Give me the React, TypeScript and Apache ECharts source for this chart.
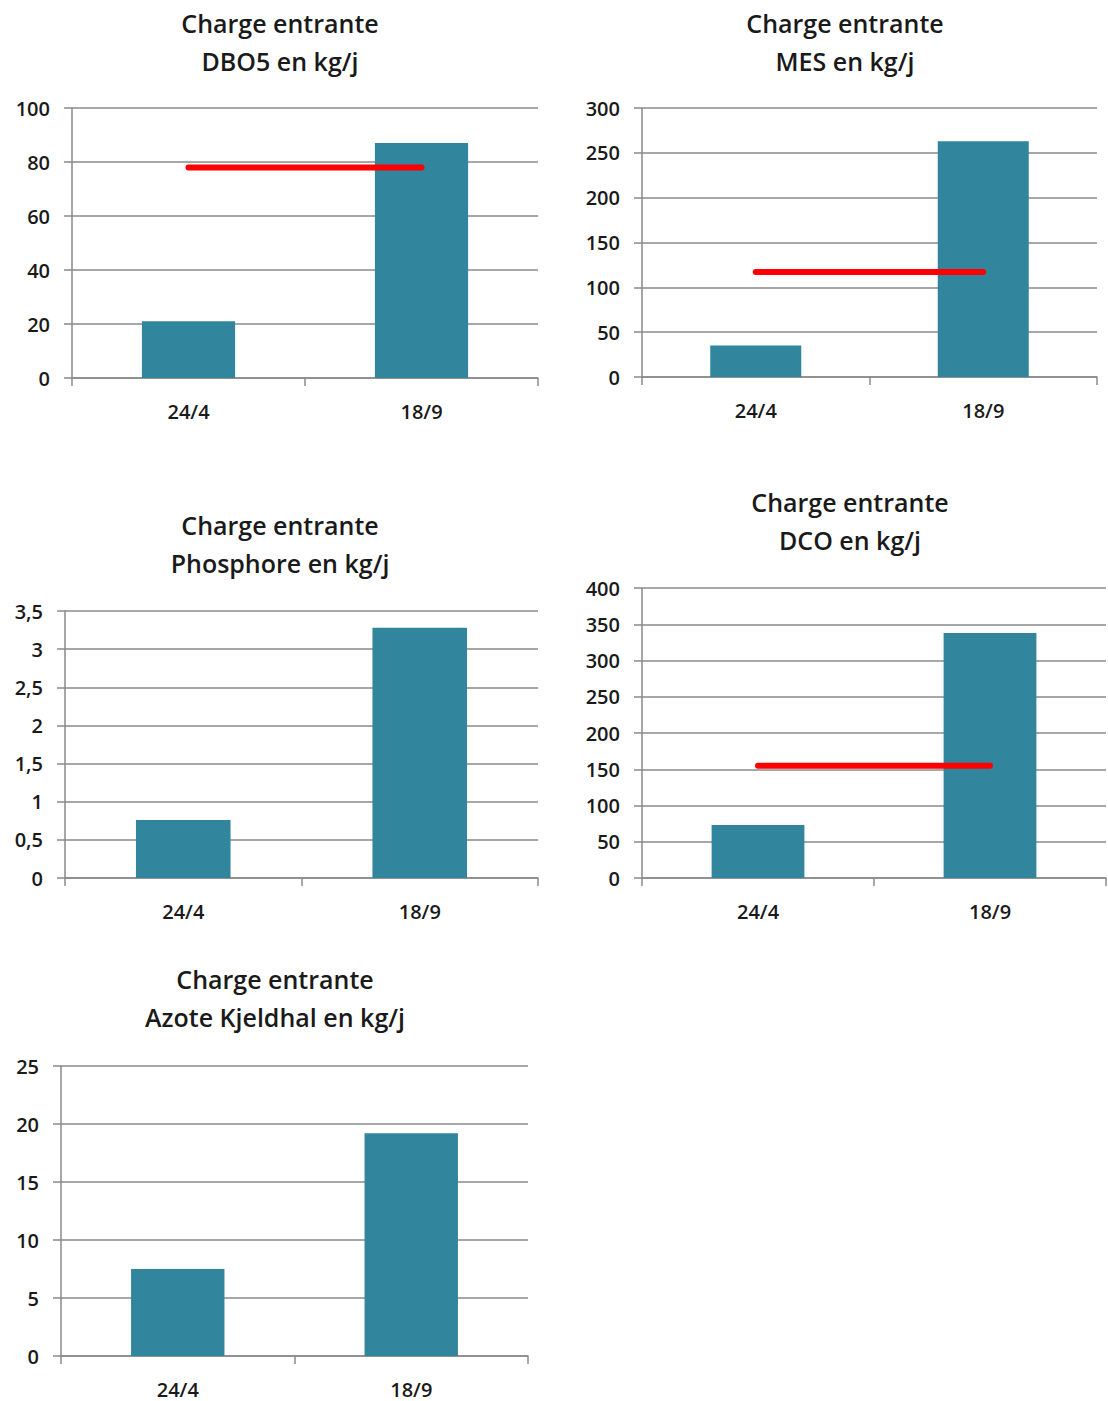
import React, { useEffect, useRef } from "react";
import * as echarts from "echarts";

const categories = ["24/4", "18/9"];

const dboValues = [21, 87];
const dboRef = [78, 78];
const mesValues = [35, 263];
const mesRef = [117, 117];
const phosValues = [0.76, 3.28];
const dcoValues = [73, 338];
const dcoRef = [155, 155];
const azoteValues = [7.5, 19.2];

const titles = [
  "Charge entrante\nDBO5 en kg/j",
  "Charge entrante\nMES en kg/j",
  "Charge entrante\nPhosphore en kg/j",
  "Charge entrante\nDCO en kg/j",
  "Charge entrante\nAzote Kjeldhal en kg/j",
];

const yMax = [100, 300, 3.5, 400, 25];
const yStep = [20, 50, 0.5, 50, 5];

const BAR = "#31859c";
const GRIDC = "#8a8a8a";
const TXT = "#1a1a1a";
const FONT = "'Open Sans', sans-serif";

const layouts = [
  { left: 72, top: 108, width: 466, height: 270, tx: 280, ty: 4 },
  { left: 642, top: 108, width: 455, height: 269, tx: 845, ty: 4 },
  { left: 65, top: 611, width: 473, height: 267, tx: 280, ty: 506 },
  { left: 642, top: 588, width: 464, height: 290, tx: 850, ty: 483 },
  { left: 61, top: 1066, width: 467, height: 290, tx: 275, ty: 960 },
];

export default function App() {
  const ref = useRef<HTMLDivElement>(null);
  useEffect(() => {
    if (!ref.current) return;
    const chart = echarts.init(ref.current, undefined, { renderer: "svg" });
    const barSets = [dboValues, mesValues, phosValues, dcoValues, azoteValues];
    const refSets: (number[] | null)[] = [dboRef, mesRef, null, dcoRef, null];

    const option: any = {
      animation: false,
      backgroundColor: "#ffffff",
      title: layouts.map((l, i) => ({
        text: titles[i],
        left: l.tx,
        top: l.ty,
        padding: 0,
        textAlign: "center",
        textStyle: {
          fontFamily: FONT,
          fontSize: 25,
          fontWeight: 600,
          color: TXT,
          lineHeight: 38,
        },
      })),
      grid: layouts.map((l) => ({
        left: l.left,
        top: l.top,
        width: l.width,
        height: l.height,
        containLabel: false,
      })),
      xAxis: layouts.map((l, i) => ({
        type: "category",
        gridIndex: i,
        data: categories,
        boundaryGap: true,
        axisLine: { show: true, lineStyle: { color: GRIDC, width: 1.5 } },
        axisTick: { show: true, length: 8, lineStyle: { color: GRIDC, width: 1.5 } },
        axisLabel: {
          margin: 23,
          fontFamily: FONT,
          fontSize: 20,
          fontWeight: 600,
          color: TXT,
        },
        splitLine: { show: false },
      })),
      yAxis: layouts.map((l, i) => ({
        type: "value",
        gridIndex: i,
        min: 0,
        max: yMax[i],
        interval: yStep[i],
        axisLine: { show: true, lineStyle: { color: GRIDC, width: 1.5 } },
        axisTick: { show: true, length: 8, lineStyle: { color: GRIDC, width: 1.5 } },
        axisLabel: {
          margin: 22,
          fontFamily: FONT,
          fontSize: 20,
          fontWeight: 600,
          color: TXT,
          formatter: (v: number) => String(v).replace(".", ","),
        },
        splitLine: { show: true, lineStyle: { color: GRIDC, width: 1.5 } },
      })),
      series: [] as any[],
    };

    barSets.forEach((vals, i) => {
      option.series.push({
        type: "bar",
        xAxisIndex: i,
        yAxisIndex: i,
        data: vals,
        barWidth: "40%",
        itemStyle: { color: BAR },
        z: 2,
      });
      const r = refSets[i];
      if (r) {
        option.series.push({
          type: "line",
          xAxisIndex: i,
          yAxisIndex: i,
          data: r,
          showSymbol: false,
          symbol: "none",
          lineStyle: { color: "#ff0000", width: 6, cap: "round" },
          z: 3,
        });
      }
    });

    chart.setOption(option);
    return () => chart.dispose();
  }, []);

  return (
    <div
      ref={ref}
      style={{ position: "absolute", left: 0, top: 0, width: 1108, height: 1401 }}
    />
  );
}
